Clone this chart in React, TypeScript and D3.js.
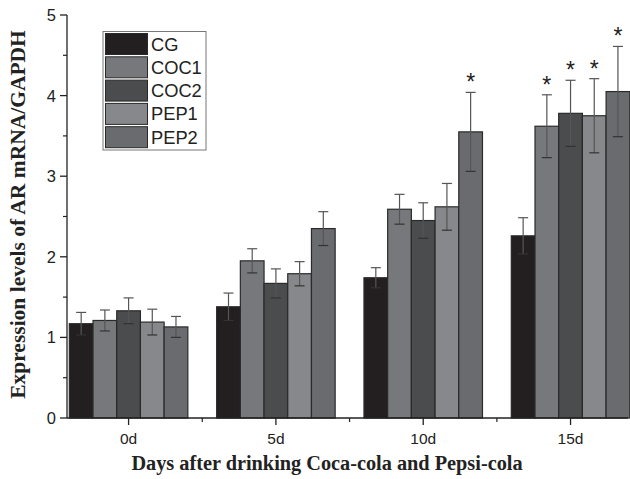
import React from "react";
import * as d3 from "d3";

const days = ["0d", "5d", "10d", "15d"];
const series = ["CG", "COC1", "COC2", "PEP1", "PEP2"];
const colors = ["#231f20", "#77787b", "#4b4c4e", "#87888b", "#6a6b6e"];
const values = [
  [1.17, 1.38, 1.74, 2.26],
  [1.21, 1.95, 2.59, 3.62],
  [1.33, 1.67, 2.45, 3.78],
  [1.19, 1.79, 2.62, 3.75],
  [1.13, 2.35, 3.55, 4.05],
];
const errors = [
  [0.14, 0.17, 0.125, 0.225],
  [0.13, 0.15, 0.185, 0.39],
  [0.16, 0.18, 0.22, 0.41],
  [0.16, 0.15, 0.29, 0.46],
  [0.13, 0.21, 0.49, 0.56],
];
const stars = [
  [false, false, false, false],
  [false, false, false, true],
  [false, false, false, true],
  [false, false, false, true],
  [false, false, true, true],
];
const yTicks = [0, 1, 2, 3, 4, 5];

export default function App() {
  const W = 630, H = 479;
  const left = 67, bottom = 418, top = 15, right = 628;
  const y = d3.scaleLinear().domain([0, 5]).range([bottom, top]);
  const x = d3.scaleLinear().domain([-0.418, 3.39]).range([left, right]);
  const barW = 23.7;
  const minorY = d3.range(0.5, 5, 1);
  const minorX = [0.5, 1.5, 2.5];

  return (
    <svg width={W} height={H} style={{ position: "absolute", left: 0, top: 0, background: "#fff" }}>
      {series.map((s, si) =>
        days.map((d, di) => {
          const cx = x(di);
          const bx = cx - (series.length * barW) / 2 + si * barW;
          const v = values[si][di];
          const e = errors[si][di];
          const mid = bx + barW / 2;
          return (
            <g key={s + d}>
              <rect x={bx} y={y(v)} width={barW} height={y(0) - y(v)} fill={colors[si]} stroke="#2a2a2a" strokeWidth={1.2} />
              <line x1={mid} x2={mid} y1={y(v + e)} y2={y(v - e)} stroke="#555" strokeWidth={1.2} />
              <line x1={mid - 5} x2={mid + 5} y1={y(v + e)} y2={y(v + e)} stroke="#555" strokeWidth={1.2} />
              <line x1={mid - 5} x2={mid + 5} y1={y(v - e)} y2={y(v - e)} stroke="#333" strokeWidth={1.2} />
              {stars[si][di] && (
                <text x={mid} y={y(v + e) - 2} textAnchor="middle" fontFamily="Liberation Sans, Arial, sans-serif" fontSize={23} fill="#222">*</text>
              )}
            </g>
          );
        })
      )}
      {/* axes */}
      <line x1={left} x2={left} y1={top} y2={bottom} stroke="#222" strokeWidth={1.3} />
      <line x1={left} x2={right} y1={bottom} y2={bottom} stroke="#222" strokeWidth={1.3} />
      {yTicks.map((t) => (
        <g key={"yt" + t}>
          <line x1={left - 7} x2={left} y1={y(t)} y2={y(t)} stroke="#222" strokeWidth={1.3} />
          <text x={left - 11} y={y(t) + 6} textAnchor="end" fontFamily="Liberation Sans, Arial, sans-serif" fontSize={16.5} fill="#222">{t}</text>
        </g>
      ))}
      {minorY.map((t) => (
        <line key={"ym" + t} x1={left - 4} x2={left} y1={y(t)} y2={y(t)} stroke="#222" strokeWidth={1.2} />
      ))}
      {days.map((d, i) => (
        <g key={"xt" + d}>
          <line x1={x(i)} x2={x(i)} y1={bottom} y2={bottom + 7} stroke="#222" strokeWidth={1.3} />
          <text x={x(i)} y={bottom + 26} textAnchor="middle" fontFamily="Liberation Sans, Arial, sans-serif" fontSize={15.5} fill="#222">{d}</text>
        </g>
      ))}
      {minorX.map((t) => (
        <line key={"xm" + t} x1={x(t)} x2={x(t)} y1={bottom} y2={bottom + 4} stroke="#222" strokeWidth={1.2} />
      ))}
      <text x={327} y={470} textAnchor="middle" fontFamily="Liberation Serif, Times New Roman, serif" fontWeight="bold" fontSize={20.3} fill="#222">Days after drinking Coca-cola and Pepsi-cola</text>
      <text transform={`translate(25, ${(top + bottom) / 2 - 2}) rotate(-90)`} textAnchor="middle" fontFamily="Liberation Serif, Times New Roman, serif" fontWeight="bold" fontSize={21.5} fill="#222">Expression levels of AR mRNA/GAPDH</text>
      {/* legend */}
      <rect x={103} y={31.5} width={103} height={118.5} fill="#fff" stroke="#777" strokeWidth={1} />
      {series.map((s, i) => (
        <g key={"lg" + s}>
          <rect x={105.5} y={33.5 + i * 23.3} width={42} height={21} fill={colors[i]} stroke="#2a2a2a" strokeWidth={1} />
          <text x={151} y={50.5 + i * 23.3} fontFamily="Liberation Sans, Arial, sans-serif" fontSize={18.3} fill="#222">{s}</text>
        </g>
      ))}
    </svg>
  );
}
